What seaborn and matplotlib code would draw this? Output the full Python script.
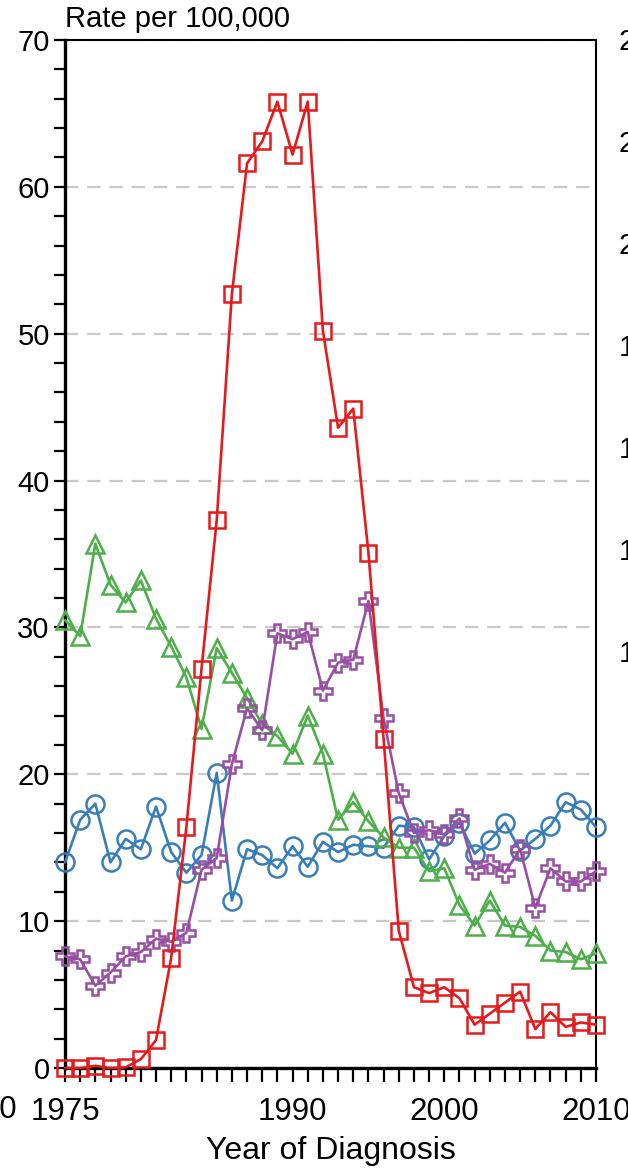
import numpy as np
import pandas as pd
import seaborn as sns
import matplotlib
matplotlib.use("Agg")
import matplotlib.pyplot as plt
from matplotlib.ticker import MultipleLocator

# values
years = list(range(1975, 2011))

blue_rate = [14.0, 16.9, 18.0, 14.0, 15.6, 14.9, 17.8, 14.7, 13.3, 14.5,
             20.1, 11.4, 14.9, 14.5, 13.6, 15.1, 13.7, 15.4, 14.7, 15.2,
             15.1, 15.0, 16.5, 16.4, 14.2, 15.8, 16.7, 14.6, 15.5, 16.7,
             14.8, 15.6, 16.5, 18.1, 17.6, 16.4]

green_rate = [30.5, 29.4, 35.7, 32.9, 31.7, 33.2, 30.6, 28.7, 26.6, 23.1,
              28.6, 26.9, 25.2, 23.4, 22.6, 21.4, 24.0, 21.4, 16.9, 18.1,
              16.8, 15.7, 15.0, 15.0, 13.4, 13.6, 11.1, 9.7, 11.4, 9.7,
              9.6, 9.0, 8.0, 7.9, 7.4, 7.8]

purple_rate = [7.6, 7.4, 5.6, 6.5, 7.6, 7.9, 8.8, 8.6, 9.2, 13.5,
               14.3, 20.7, 24.5, 23.0, 29.6, 29.2, 29.7, 25.7, 27.6, 27.8,
               31.8, 23.8, 18.7, 16.0, 16.2, 15.9, 17.0, 13.5, 13.9, 13.3,
               14.9, 10.9, 13.6, 12.7, 12.7, 13.4]

red_rate = [0.0, 0.0, 0.15, 0.0, 0.05, 0.6, 1.9, 7.5, 16.4, 27.2,
            37.3, 52.7, 61.6, 63.1, 65.8, 62.2, 65.8, 50.2, 43.6, 44.9,
            35.1, 22.4, 9.35, 5.5, 5.1, 5.5, 4.75, 2.95, 3.7, 4.45,
            5.2, 2.65, 3.8, 2.8, 3.1, 2.95]

xtick_labels = {1975: "1975", 1990: "1990", 2000: "2000", 2010: "2010"}
# bits of the neighbouring panels that show at the crop edges
right_edge_labels = ["250", "225", "200", "175", "150", "125", "100"]
left_edge_label = "2010"

sns.set_style("ticks")
plt.rcParams["font.family"] = ["Liberation Sans", "DejaVu Sans"]
plt.rcParams["text.color"] = "black"
plt.rcParams["axes.labelcolor"] = "black"

fig = plt.figure(figsize=(6.28, 11.7), dpi=100)
W, H = 628, 1170
ax = fig.add_axes([65 / W, (H - 1068) / H, (596 - 65) / W, (1068 - 40) / H])

series = [
    (blue_rate, "#377EB8", "o", 13),
    (green_rate, "#4DAF4A", "^", 13.5),
    (purple_rate, "#984EA3", "P", 13),
    (red_rate, "#E41A1C", "s", 11),
]
for vals, col, mk, ms in series:
    df = pd.DataFrame({"year": years, "rate": vals})
    sns.lineplot(data=df, x="year", y="rate", ax=ax, color=col, marker=mk,
                 markersize=ms, markerfacecolor="none", markeredgecolor=col,
                 markeredgewidth=1.8, linewidth=1.9, clip_on=False,
                 estimator=None, zorder=3)

ax.set_xlim(1975, 2010)
ax.set_ylim(0, 70)
ax.set_xticks(years)
ax.set_xticklabels([xtick_labels.get(y, "") for y in years])
ax.yaxis.set_major_locator(MultipleLocator(10))
ax.yaxis.set_minor_locator(MultipleLocator(2))

ax.grid(axis="y", which="major", color="#c8c8c8", linestyle=(0, (6, 4)),
        linewidth=1.6, zorder=0)
ax.set_axisbelow(True)

ax.tick_params(axis="x", which="major", length=10, width=1.6, pad=11,
               labelsize=22.5, direction="out", colors="black")
ax.tick_params(axis="y", which="both", length=8, width=1.6, pad=3,
               labelsize=21, direction="out", colors="black")

for side in ["left", "bottom"]:
    ax.spines[side].set_linewidth(2.4)
for side in ["top", "right"]:
    ax.spines[side].set_linewidth(1.5)
for sp in ax.spines.values():
    sp.set_color("black")
    sp.set_visible(True)

ax.set_xlabel("Year of Diagnosis", fontsize=23, labelpad=6)
ax.set_ylabel("")
fig.text(65 / W, 1 - 19 / H, "Rate per 100,000", fontsize=21,
         ha="left", va="center")

fig.text(17 / W, 1 - 1110 / H, left_edge_label, fontsize=22.5,
         ha="right", va="center")
for i, lab in enumerate(right_edge_labels):
    fig.text(619 / W, 1 - (42 + i * 102) / H, lab, fontsize=21,
             ha="left", va="center")

fig.savefig("out.png", dpi=100)
